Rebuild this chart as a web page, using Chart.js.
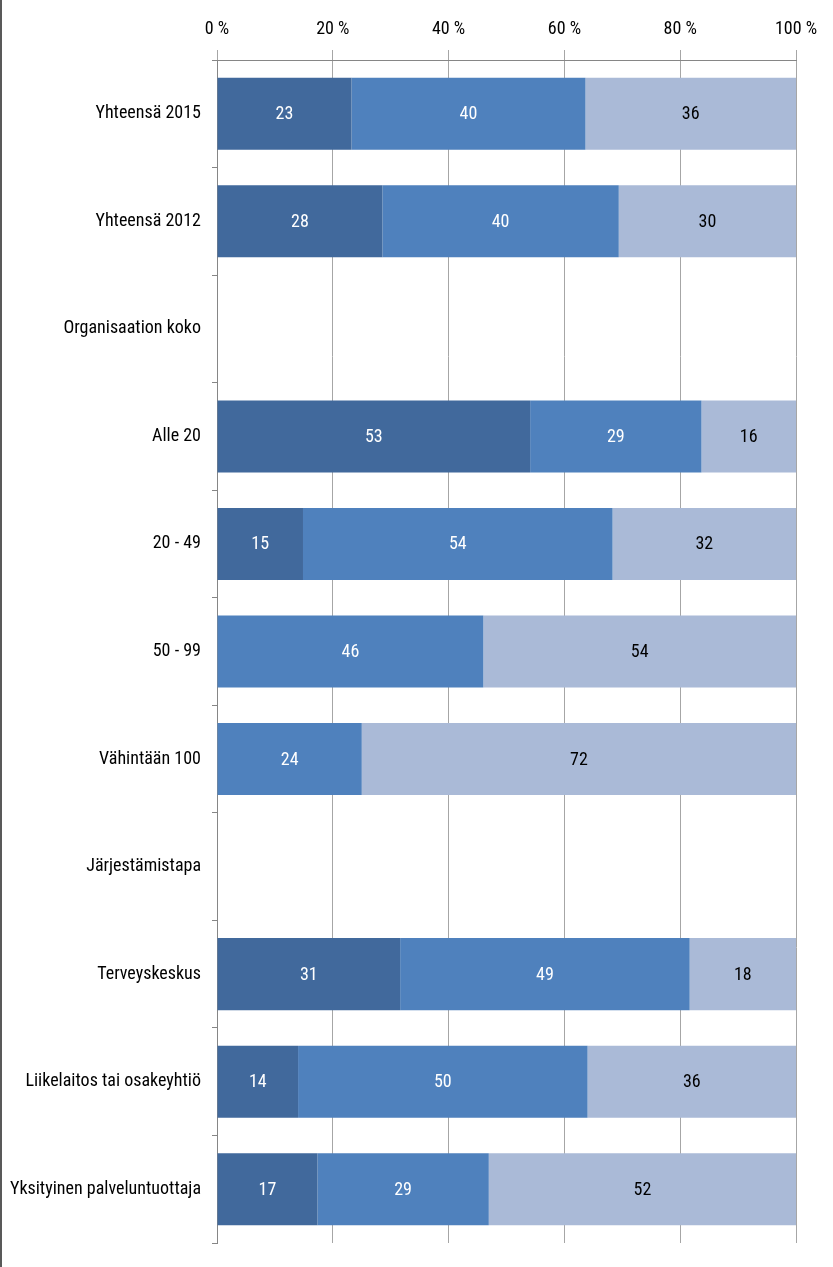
<!DOCTYPE html>
<html>
<head>
<meta charset="utf-8">
<script src="https://cdn.jsdelivr.net/npm/chart.js@4"></script>
<style>
	html, body { margin: 0; padding: 0; background: #fff; }
	#wrap { position: relative; width: 831px; height: 1267px; border-left: 2px solid #595959; }
</style>
</head>
<body>
<div id="wrap"><canvas id="bar-chart"></canvas></div>
<script>
const categories = [
	"Yhteensä 2015",
	"Yhteensä 2012",
	"Organisaation koko",
	"Alle 20",
	"20 - 49",
	"50 - 99",
	"Vähintään 100",
	"Järjestämistapa",
	"Terveyskeskus",
	"Liikelaitos tai osakeyhtiö",
	"Yksityinen palveluntuottaja"
];
const seriesA = [23, 28, null, 53, 15, null, null, null, 31, 14, 17];
const seriesB = [40, 40, null, 29, 54, 46, 24, null, 49, 50, 29];
const seriesC = [36, 30, null, 16, 32, 54, 72, null, 18, 36, 52];
const tickLabels = ["0 %", "20 %", "40 %", "60 %", "80 %", "100 %"];

const FONT = "'Liberation Sans Narrow', 'Roboto Condensed', 'Open Sans', sans-serif";

// Excel style 100 % stack: each bar is scaled to its own total
const totals = categories.map((c, i) => (seriesA[i] || 0) + (seriesB[i] || 0) + (seriesC[i] || 0));
const share = (arr) => arr.map((v, i) => (v ? (v / totals[i]) * 100 : null));

const barLabels = {
	id: "barLabels",
	afterDatasetsDraw(chart) {
		const ctx = chart.ctx;
		ctx.save();
		ctx.font = "18px " + FONT;
		ctx.textAlign = "center";
		ctx.textBaseline = "middle";
		chart.data.datasets.forEach((ds, di) => {
			const meta = chart.getDatasetMeta(di);
			meta.data.forEach((bar, i) => {
				const v = ds.raw[i];
				if (!v) return;
				ctx.fillStyle = ds.labelColor;
				ctx.fillText(String(v), (bar.x + bar.base) / 2, bar.y + 1);
			});
		});
		ctx.restore();
	}
};

const barData = {
	labels: categories,
	datasets: [
		{ data: share(seriesA), raw: seriesA, backgroundColor: "#41699C", labelColor: "#fff" },
		{ data: share(seriesB), raw: seriesB, backgroundColor: "#4F81BD", labelColor: "#fff" },
		{ data: share(seriesC), raw: seriesC, backgroundColor: "#AABAD7", labelColor: "#000" }
	]
};

const barOptions = {
	indexAxis: "y",
	responsive: true,
	maintainAspectRatio: false,
	animation: false,
	layout: { padding: { left: 0, right: 37, top: 0, bottom: 24 } },
	datasets: {
		bar: { categoryPercentage: 1, barPercentage: 0.67, borderWidth: 0 }
	},
	plugins: {
		legend: { display: false },
		tooltip: { enabled: false }
	},
	scales: {
		x: {
			position: "top",
			stacked: true,
			min: 0,
			max: 100,
			afterFit(scale) { scale.height = 60; },
			grid: { color: "#A6A6A6", lineWidth: 1, tickLength: 10, tickColor: "#A6A6A6" },
			border: { color: "#868686", width: 1 },
			ticks: {
				stepSize: 20,
				color: "#000",
				padding: 10,
				font: { family: FONT, size: 18 },
				callback: (v) => tickLabels[v / 20]
			}
		},
		y: {
			stacked: true,
			afterFit(scale) { scale.width = 215; },
			grid: { offset: true, drawOnChartArea: false, tickLength: 5, tickColor: "#868686" },
			border: { color: "#868686", width: 1 },
			ticks: {
				color: "#000",
				padding: 11,
				font: { family: FONT, size: 18 }
			}
		}
	}
};

const barContext = document.getElementById("bar-chart").getContext("2d");
const barChart = new Chart(barContext, {
	type: "bar",
	data: barData,
	options: barOptions,
	plugins: [barLabels]
});
</script>
</body>
</html>
